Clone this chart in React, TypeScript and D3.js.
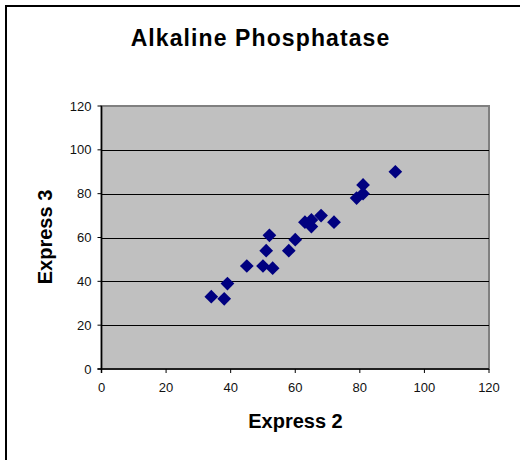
import React from "react";
import * as d3 from "d3";

const title = "Alkaline Phosphatase";
const xLabel = "Express 2";
const yLabel = "Express 3";
const xTicks = [0, 20, 40, 60, 80, 100, 120];
const yTicks = [0, 20, 40, 60, 80, 100, 120];
const express2 = [34, 38, 39, 45, 50, 53, 51, 52, 58, 60, 63, 65, 65, 68, 72, 79, 81, 81, 91];
const express3 = [33, 32, 39, 47, 47, 46, 54, 61, 54, 59, 67, 68, 65, 70, 67, 78, 80, 84, 90];

const W = 520;
const H = 460;
const left = 101.5;
const right = 489;
const top = 106;
const bottom = 369;
const font = "Arial, 'Liberation Sans', sans-serif";

export default function App() {
  const x = d3.scaleLinear().domain([0, 120]).range([left, right]);
  const y = d3.scaleLinear().domain([0, 120]).range([bottom, top]);
  const diamond = d3.symbol().type(d3.symbolDiamond2).size(120)();
  const pts = express2.map((v, i) => ({ x: v, y: express3[i] }));
  return (
    <svg
      width={W}
      height={H}
      style={{ position: "absolute", left: 0, top: 0, background: "#fff" }}
    >
      <rect x={0} y={0} width={W} height={H} fill="#fff" />
      <rect x={6} y={6} width={W + 10} height={H + 10} fill="none" stroke="#000" strokeWidth={2} />
      <text x={260.5} y={46} textAnchor="middle" fontFamily={font} fontWeight="bold" fontSize={23} letterSpacing={1.1}>
        {title}
      </text>
      <rect x={left} y={top} width={right - left} height={bottom - top} fill="#C0C0C0" stroke="#808080" strokeWidth={2} />
      {yTicks.filter((t) => t > 0 && t < 120).map((t) => (
        <line key={"g" + t} x1={left} x2={right} y1={Math.round(y(t)) + 0.5} y2={Math.round(y(t)) + 0.5} stroke="#000" strokeWidth={1} />
      ))}
      <line x1={left} x2={left} y1={top} y2={bottom + 4} stroke="#000" strokeWidth={1.5} />
      <line x1={left - 4} x2={right} y1={bottom} y2={bottom} stroke="#000" strokeWidth={1.5} />
      {yTicks.map((t) => (
        <g key={"y" + t}>
          <line x1={left - 4} x2={left} y1={y(t)} y2={y(t)} stroke="#000" strokeWidth={1} />
          <text x={left - 10} y={y(t) + 4.5} textAnchor="end" fontFamily={font} fontSize={13} fill="#111">
            {t}
          </text>
        </g>
      ))}
      {xTicks.map((t) => (
        <g key={"x" + t}>
          <line x1={x(t)} x2={x(t)} y1={bottom} y2={bottom + 4} stroke="#000" strokeWidth={1} />
          <text x={x(t)} y={392} textAnchor="middle" fontFamily={font} fontSize={13} fill="#111">
            {t}
          </text>
        </g>
      ))}
      <text x={295.5} y={428} textAnchor="middle" fontFamily={font} fontWeight="bold" fontSize={20}>
        {xLabel}
      </text>
      <text
        transform={`translate(52,237) rotate(-90)`}
        textAnchor="middle"
        fontFamily={font}
        fontWeight="bold"
        fontSize={20}
      >
        {yLabel}
      </text>
      {pts.map((p, i) => (
        <path key={i} d={diamond} transform={`translate(${x(p.x)},${y(p.y)})`} fill="#000080" />
      ))}
    </svg>
  );
}
